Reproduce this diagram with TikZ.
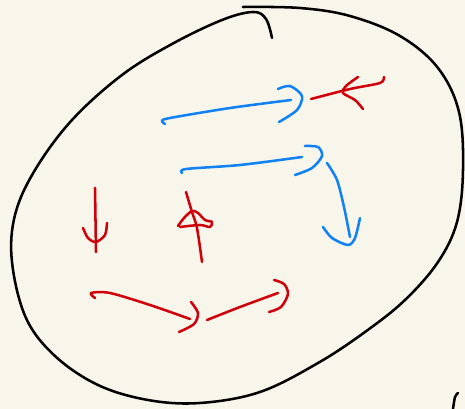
\documentclass[tikz,border=0pt]{standalone}
\definecolor{paper}{RGB}{248,246,235}
\definecolor{penblue}{RGB}{16,130,245}
\definecolor{penred}{RGB}{208,0,10}

\begin{document}
\begin{tikzpicture}[x=0.75pt,y=-0.75pt,line cap=round,line join=round,
  ink/.style={line width=1.9pt,black},
  blu/.style={line width=1.9pt,penblue},
  rd/.style={line width=1.9pt,penred}]
  \fill[paper] (0,0) rectangle (465,409);
  \useasboundingbox (0,0) rectangle (465,409);
  % big loop
  \draw[ink] plot[smooth,tension=0.6] coordinates {(243,7) (300,8) (350,16) (400,36) (438,68) (459,112) (463,170) (457,222) (438,262) (405,300) (365,332) (318,363) (260,392) (200,403) (148,400) (98,385) (55,356) (26,318) (12,262) (15,215) (35,170) (72,120) (122,75) (172,44) (222,20) (253,12) (266,19) (272,38)};
  \draw[ink] plot[smooth] coordinates {(458,393) (455,397) (453,409)};
  % blue arrows
  \draw[blu] plot[smooth] coordinates {(165,124) (162,121) (170,118) (230,108) (291,100)};
  \draw[blu] plot[smooth] coordinates {(278,89) (290,86) (302,96) (297,110) (279,122)};
  \draw[blu] plot[smooth] coordinates {(182,173) (186,169) (240,165) (302,157)};
  \draw[blu] plot[smooth] coordinates {(305,146) (318,147) (322,156) (312,168) (295,175)};
  \draw[blu] plot[smooth] coordinates {(327,163) (337,180) (344,207) (350,237)};
  \draw[blu] plot[smooth] coordinates {(323,227) (332,238) (348,245) (355,238) (360,218)};
  % red arrows
  \draw[rd] plot[smooth] coordinates {(384,77) (380,83) (350,89) (311,99)};
  \draw[rd] plot[smooth] coordinates {(358,77) (346,86) (343,93) (355,100) (363,109)};
  \draw[rd] (95,188) -- (96,252);
  \draw[rd] plot[smooth] coordinates {(83,228) (88,238) (96,242) (105,235) (107,223)};
  \draw[rd] plot[smooth] coordinates {(186,192) (192,212) (197,228) (202,262)};
  \draw[rd] plot[smooth] coordinates {(178,226) (184,218) (192,211) (198,213) (205,220) (212,222) (210,227) (200,225) (180,227)};
  \draw[rd] plot[smooth] coordinates {(95,298) (91,293) (110,293) (150,305) (190,319)};
  \draw[rd] plot[smooth] coordinates {(191,302) (198,313) (194,324) (179,332)};
  \draw[rd] plot[smooth] coordinates {(207,320) (240,307) (278,293)};
  \draw[rd] plot[smooth] coordinates {(274,280) (284,284) (288,294) (281,307) (269,312)};
\end{tikzpicture}
\end{document}
